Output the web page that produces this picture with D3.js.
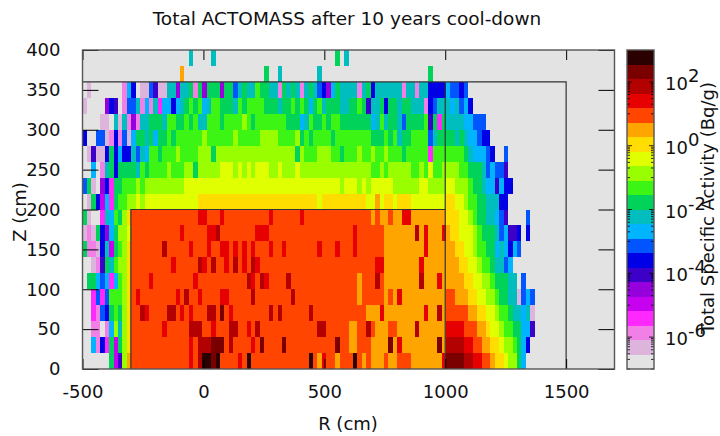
<!DOCTYPE html>
<html>
<head>
<meta charset="utf-8">
<script src="https://cdn.jsdelivr.net/npm/d3@7"></script>
<style>
    html, body { margin: 0; padding: 0; background: #fff; }
    svg text { font-family: "DejaVu Sans", sans-serif; fill: #111; }
    .axis path { display: none; }
    .axis line { stroke: #000; stroke-width: 1; }
</style>
</head>
<body>
<svg id="chart" width="720" height="436"></svg>
<script>
// Colour bands of the activity scale, lowest first
let bandColors = ["#e3e3e3", "#dcb4dc", "#f080e6", "#ff28ff", "#c800f0", "#9600dc", "#3c00c8", "#0000e6",
    "#0055ff", "#00b4ff", "#00bebe", "#00d25a", "#3cf514", "#99ff00", "#e0ff00", "#ffdd00",
    "#ffa500", "#ff4500", "#e60000", "#b30000", "#7a0000", "#2a0000"];

let rTicks = [-500, 0, 500, 1000, 1500];
let zTicks = [0, 50, 100, 150, 200, 250, 300, 350, 400];
let activityExponents = [2, 0, -2, -4, -6];

// Band number of each R bin (18.33 cm wide, left to right), one list per 20 cm of Z.
// Bins after the end of a list are empty.
let z0 = [0,0,0,0,0,0,11,4,6,13, 16,17,17,17,17,17,17,17,17,17, 17,17,17,17,18,17,19,21,21,20, 21,17,17,17,17,18,17,21,17,17, 17,17,17,17,17,17,17,17,17,17, 17,21,17,16,18,17,17,16,17,17, 17,21,17,16,17,16,16,16,17,16, 16,17,17,17,16,16,16,16,16,16, 16,18,20,20,20,20,19,19,18,18, 17,17,16,15,15,14,13,13,11,9];
let z20 = [0,0,9,2,7,3,11,4,11,13, 15,17,17,17,17,17,17,17,17,17, 17,17,17,17,18,17,19,19,19,20, 20,20,17,19,17,17,17,17,18,17, 20,17,17,17,17,20,17,17,17,17, 17,17,17,17,17,17,17,20,17,17, 16,16,17,17,17,16,16,16,16,20, 16,18,16,16,16,16,16,16,16,16, 20,16,19,19,19,19,18,18,17,17, 16,16,15,15,14,13,13,12,11,9,7];
let z40 = [0,0,2,2,0,2,9,13,10,13, 15,17,17,17,17,17,17,17,18,17, 17,17,17,17,19,19,19,17,17,18, 17,17,17,19,19,17,17,18,17,19, 17,17,17,17,17,17,17,17,17,17, 17,17,17,19,19,17,17,17,17,17, 16,16,17,17,19,17,16,16,16,17, 17,16,16,16,16,19,16,16,16,16, 16,16,18,18,18,18,17,17,17,16, 16,15,14,14,13,12,12,11,11,9,9,6];
let z60 = [0,0,3,2,8,7,11,12,11,13, 15,17,17,19,18,17,17,17,17,19, 19,17,18,17,18,17,17,17,19,19, 17,20,17,18,17,17,17,17,17,17, 17,17,19,17,19,17,17,17,17,17, 17,19,17,17,17,17,17,17,17,17, 17,17,17,17,16,16,16,18,16,16, 16,16,16,16,16,16,16,18,16,16, 19,16,17,17,17,17,17,16,16,15, 15,14,14,13,12,12,11,10,10,9,10,1];
let z80 = [0,0,3,8,3,8,12,12,12,13, 15,17,18,17,17,17,17,17,17,17, 17,18,17,19,17,17,18,17,17,17, 17,18,18,17,17,17,17,17,19,17, 17,17,17,17,17,17,17,19,17,17, 17,17,17,17,17,17,17,17,17,17, 17,17,16,17,17,17,17,17,16,17, 16,18,16,16,16,16,16,16,16,16, 16,16,17,17,16,16,16,15,15,14, 14,13,13,12,11,11,10,10,1,8,9,8];
let z100 = [0,11,11,9,8,9,3,9,12,13, 15,17,17,17,17,18,17,17,17,17, 17,17,17,17,17,18,17,17,17,17, 17,17,17,17,17,17,17,19,18,17, 19,18,17,17,17,17,19,17,17,17, 17,17,17,17,17,17,17,17,17,17, 17,17,16,17,17,17,19,17,16,16, 16,16,16,16,16,16,19,16,16,16, 18,16,16,16,16,16,15,15,14,14, 13,13,12,11,11,11,10,10,0,8];
let z120 = [0,0,1,2,6,11,10,12,13,13, 15,17,17,17,17,17,17,17,17,17, 18,17,17,17,17,17,19,18,17,19, 17,17,18,17,19,17,18,17,19,18, 17,17,17,17,17,17,17,17,17,17, 17,17,17,17,17,17,17,17,17,17, 17,17,17,17,17,17,18,18,16,16, 16,16,16,16,16,16,18,16,16,16, 16,16,16,16,16,15,15,14,14,13, 12,12,11,10,10,8,9];
let z140 = [11,2,2,1,7,10,4,11,12,13, 15,17,17,17,17,17,17,17,19,17, 17,17,17,17,18,17,17,17,18,17, 17,18,18,17,18,17,18,17,18,17, 17,17,18,17,17,18,17,17,17,17, 17,17,17,18,17,17,17,18,17,17, 17,18,17,17,17,17,17,17,16,16, 16,16,16,16,16,16,16,18,16,16, 16,16,16,16,15,15,14,14,13,12, 12,11,11,9,10,9,7,9,8];
let z160 = [1,2,1,11,7,5,9,11,13,13, 14,17,17,17,17,17,17,17,17,17, 17,17,18,17,17,17,17,17,18,18, 19,17,17,17,17,17,17,17,17,18, 18,18,17,17,17,17,17,17,17,17, 17,17,17,17,17,17,17,17,17,17, 17,18,17,17,17,17,17,17,16,16, 16,16,16,16,16,19,16,18,16,16, 16,18,16,15,15,14,14,14,13,12, 11,11,11,10,8,9,6,6,7,0,7];
let z180 = [11,1,0,0,3,10,9,12,11,13, 15,17,17,17,17,17,17,17,17,17, 17,17,17,17,17,17,18,18,17,17, 17,18,17,17,17,17,17,17,17,17, 17,17,18,17,17,17,17,17,17,18, 17,17,17,17,17,17,17,17,17,17, 17,17,17,17,17,16,17,16,16,17, 16,16,18,18,16,16,16,16,16,16, 16,16,15,15,15,14,14,13,12,11, 11,10,10,9,8,6,0,0,0,0,8];
let z200 = [0,1,11,7,4,9,3,11,12,12, 13,13,14,13,14,14,14,14,14,14, 14,14,14,14,14,14,15,15,15,15, 15,15,15,15,15,15,15,15,15,15, 15,15,15,15,15,15,15,15,15,15, 15,15,15,14,15,15,15,15,15,15, 15,15,15,15,14,14,16,14,15,15, 14,15,15,15,14,14,14,14,14,14, 14,14,15,15,14,14,13,12,12,11, 11,10,10,10,7,7];
let z220 = [8,11,1,0,5,7,3,11,11,12, 12,12,13,12,13,13,13,13,13,13, 13,13,13,14,14,14,14,14,14,14, 14,14,14,14,14,14,14,14,14,14, 14,14,14,14,14,14,14,14,14,14, 14,14,14,14,14,14,14,14,13,14, 14,14,13,14,13,14,14,14,14,14, 13,13,13,13,13,13,14,14,13,13, 13,13,14,14,13,13,13,12,11,11, 10,9,9,6,9,7,7];
let z240 = [0,0,9,0,2,10,11,7,11,11, 11,11,10,12,11,12,12,12,12,13, 12,12,12,13,13,11,13,13,13,13, 13,14,14,14,13,14,13,14,13,14, 14,14,13,13,14,13,13,13,14,13, 13,13,13,13,13,13,13,13,13,13, 13,13,13,13,13,12,12,13,12,13, 13,13,13,13,12,12,13,12,14,12, 12,13,13,13,13,12,12,11,11,11, 10,8,9,8,8,6];
let z260 = [0,1,6,1,1,7,11,7,9,7, 7,10,8,10,9,12,12,11,12,12, 12,13,12,12,12,12,13,13,13,11, 13,13,13,13,13,13,13,13,13,13, 13,13,13,13,13,13,13,13,11,13, 12,12,12,13,13,13,12,12,11,12, 12,12,13,12,12,13,12,12,13,12, 12,12,11,12,12,12,12,12,3,12, 12,12,12,12,12,12,11,10,9,9, 9,8,7,0,0,8];
let z280 = [7,0,0,8,8,1,2,7,2,8, 1,9,11,11,10,11,9,11,11,12, 11,12,12,12,12,12,12,13,12,12, 12,12,12,12,13,12,12,12,12,12, 13,13,13,13,12,12,12,12,13,11, 12,11,12,12,12,12,11,12,12,12, 12,12,12,12,12,11,11,11,12,11, 12,10,11,11,12,12,12,12,8,10, 11,11,11,11,10,11,10,9,9,8, 7,7];
let z300 = [0,0,0,0,1,1,0,10,1,10, 2,5,2,10,10,11,11,11,10,12, 12,11,11,12,11,12,10,10,12,12, 12,11,12,12,12,12,13,12,11,12, 12,12,12,12,12,12,11,11,11,9, 10,12,11,11,12,11,12,12,11,11, 11,11,11,11,11,9,10,12,10,11, 11,10,8,11,11,11,11,12,6,11, 3,11,10,10,10,10,9,9,8,8, 8];
let z320 = [1,0,0,0,0,5,7,6,0,2, 8,8,10,2,9,2,10,3,9,9, 7,9,10,11,12,11,12,9,10,12, 12,11,11,11,10,12,11,12,12,12, 12,11,11,11,10,11,11,12,11,12, 11,9,11,12,10,11,11,11,10,10, 11,11,12,11,6,10,10,11,7,11, 11,10,11,11,10,10,10,2,7,8, 10,10,10,9,10,8,9,7];
let z340 = [0,1,0,0,0,0,0,0,0,2, 9,7,0,1,1,8,6,1,1,10, 10,5,10,10,11,2,11,5,11,11, 11,5,11,11,8,10,11,10,10,12, 11,11,10,10,2,11,10,11,10,2, 10,11,10,8,7,5,9,11,10,10, 10,10,2,10,11,7,10,10,10,10, 10,10,2,10,10,2,10,10,7,7, 7,7,9,8,8,7,8];
let z360 = [0,0,0,0,0,0,0,0,0,0, 0,0,0,0,0,0,0,0,0,0, 0,0,16,0,0,0,0,0,0,0, 0,0,0,0,0,0,0,0,0,0, 0,11,0,0,10,0,0,0,0,0, 0,0,0,10,0,0,0,0,0,0, 0,0,0,0,0,0,0,0,0,0, 0,0,0,0,0,0,0,0,11];
let z380 = [0,0,0,0,0,0,0,0,0,0, 0,0,0,0,0,0,0,0,0,0, 0,0,0,0,10,0,0,0,0,10, 0,0,0,0,0,0,0,0,0,0, 0,0,0,0,0,0,0,0,0,0, 0,0,0,0,0,0,0,11,0,10];
let zRows = [z0, z20, z40, z60, z80, z100, z120, z140, z160, z180, z200, z220, z240, z260, z280, z300, z320, z340, z360, z380];

let rBin = 2200 / 120;
let zBin = 20;

let svg = d3.select("#chart");

let x = d3.scaleLinear().domain([-500, 1700]).range([82.5, 614.5]);
let y = d3.scaleLinear().domain([0, 400]).range([369, 50]);
let bar = d3.scaleLog().domain([1e-7, 1e3]).range([369, 50]);
let bandColor = d3.scaleOrdinal().domain(d3.range(bandColors.length)).range(bandColors);

// Flat list of the filled bins
let cells = [];
zRows.forEach(function (row, j) {
    row.forEach(function (band, i) {
        if (band > 0) cells.push({ r: -500 + i * rBin, z: j * zBin, band: band });
    });
});

svg.append("rect")
    .attr("x", x(-500))
    .attr("y", y(400))
    .attr("width", x(1700) - x(-500))
    .attr("height", y(0) - y(400))
    .attr("fill", bandColor(0));

svg.selectAll("rect.cell")
    .data(cells).enter()
    .append("rect")
    .attr("class", "cell")
    .attr("x", function (d) { return x(d.r); })
    .attr("y", function (d) { return y(d.z + zBin); })
    .attr("width", x(rBin) - x(0))
    .attr("height", y(0) - y(zBin))
    .attr("fill", function (d) { return bandColor(d.band); })
    .attr("shape-rendering", "crispEdges");

// Geometry outlines on top of the map
let outlines = [
    [[-500, 360], [1500, 360], [1500, 0]],
    [[1000, 360], [1000, 0]],
    [[-300, 0], [-300, 200], [1000, 200]]
];
let outline = d3.line().x(function (d) { return x(d[0]); }).y(function (d) { return y(d[1]); });
svg.selectAll("path.outline")
    .data(outlines).enter()
    .append("path")
    .attr("class", "outline")
    .attr("d", outline)
    .attr("fill", "none")
    .attr("stroke", "#333")
    .attr("stroke-width", 1.2);

// Axes: inside ticks on all four sides, labels only left and bottom
svg.append("g").attr("class", "axis").attr("transform", "translate(" + x(-500) + ",0)")
    .call(d3.axisLeft(y).tickValues(zTicks).tickSize(-16).tickFormat(String))
    .selectAll("text").style("font-size", "18px").attr("x", -22);
svg.append("g").attr("class", "axis").attr("transform", "translate(" + x(1700) + ",0)")
    .call(d3.axisRight(y).tickValues(zTicks).tickSize(-16).tickFormat(""));
svg.append("g").attr("class", "axis").attr("transform", "translate(0," + y(0) + ")")
    .call(d3.axisBottom(x).tickValues(rTicks).tickSize(-10).tickPadding(16).tickFormat(String))
    .selectAll("text").style("font-size", "18px");
svg.append("g").attr("class", "axis").attr("transform", "translate(0," + y(400) + ")")
    .call(d3.axisTop(x).tickValues(rTicks).tickSize(-10).tickFormat(""));

svg.append("rect")
    .attr("x", x(-500))
    .attr("y", y(400))
    .attr("width", x(1700) - x(-500))
    .attr("height", y(0) - y(400))
    .attr("fill", "none")
    .attr("stroke", "#555")
    .attr("stroke-width", 1.4);

// Colour bar
let barLeft = 627, barRight = 654;
let bandStep = 10 / bandColors.length;
svg.selectAll("rect.band")
    .data(bandColors).enter()
    .append("rect")
    .attr("class", "band")
    .attr("x", barLeft)
    .attr("y", function (d, i) { return bar(Math.pow(10, -7 + (i + 1) * bandStep)); })
    .attr("width", barRight - barLeft)
    .attr("height", function (d, i) { return bar(Math.pow(10, -7 + i * bandStep)) - bar(Math.pow(10, -7 + (i + 1) * bandStep)); })
    .attr("fill", function (d) { return d; })
    .attr("shape-rendering", "crispEdges");

// log ticks: each major tick has its 10%..90% minors below it
let majorTicks = activityExponents.map(function (e) { return Math.pow(10, e); });
let minorTicks = [];
majorTicks.forEach(function (m) {
    d3.range(1, 10).forEach(function (k) { minorTicks.push(m * k / 10); });
});
minorTicks = minorTicks.filter(function (v) { return v >= 1e-7; });

[[barLeft, 1], [barRight, -1]].forEach(function (side) {
    svg.selectAll("line.minor" + side[0])
        .data(minorTicks).enter()
        .append("line")
        .attr("class", "minor" + side[0])
        .attr("x1", side[0])
        .attr("x2", side[0] + side[1] * 3)
        .attr("y1", function (d) { return bar(d); })
        .attr("y2", function (d) { return bar(d); })
        .attr("stroke", "#000")
        .attr("stroke-width", 0.8);
    svg.selectAll("line.major" + side[0])
        .data(majorTicks).enter()
        .append("line")
        .attr("class", "major" + side[0])
        .attr("x1", side[0])
        .attr("x2", side[0] + side[1] * 5)
        .attr("y1", function (d) { return bar(d); })
        .attr("y2", function (d) { return bar(d); })
        .attr("stroke", "#000")
        .attr("stroke-width", 0.8);
});

svg.append("rect")
    .attr("x", barLeft)
    .attr("y", 50)
    .attr("width", barRight - barLeft)
    .attr("height", 319)
    .attr("fill", "none")
    .attr("stroke", "#555")
    .attr("stroke-width", 1.4);

let barLabels = svg.selectAll("text.barlabel")
    .data(activityExponents).enter()
    .append("text")
    .attr("class", "barlabel")
    .attr("x", 665)
    .attr("y", function (d) { return bar(Math.pow(10, d)) + 8; })
    .style("font-size", "18px");
barLabels.append("tspan").text("10");
barLabels.append("tspan").attr("dy", -8)
    .text(function (d) { return d < 0 ? "-" + Math.abs(d) : d; });

// Titles
svg.append("text").attr("x", 347).attr("y", 25).attr("text-anchor", "middle")
    .style("font-size", "18.5px").text("Total ACTOMASS after 10 years cool-down");
svg.append("text").attr("x", 348).attr("y", 430).attr("text-anchor", "middle")
    .style("font-size", "18px").text("R (cm)");
svg.append("text").attr("transform", "translate(26,212) rotate(-90)").attr("text-anchor", "middle")
    .style("font-size", "18px").text("Z (cm)");
svg.append("text").attr("transform", "translate(714,208) rotate(-90)").attr("text-anchor", "middle")
    .style("font-size", "18px").text("Total Specific Activity (Bq/g)");
</script>
</body>
</html>
